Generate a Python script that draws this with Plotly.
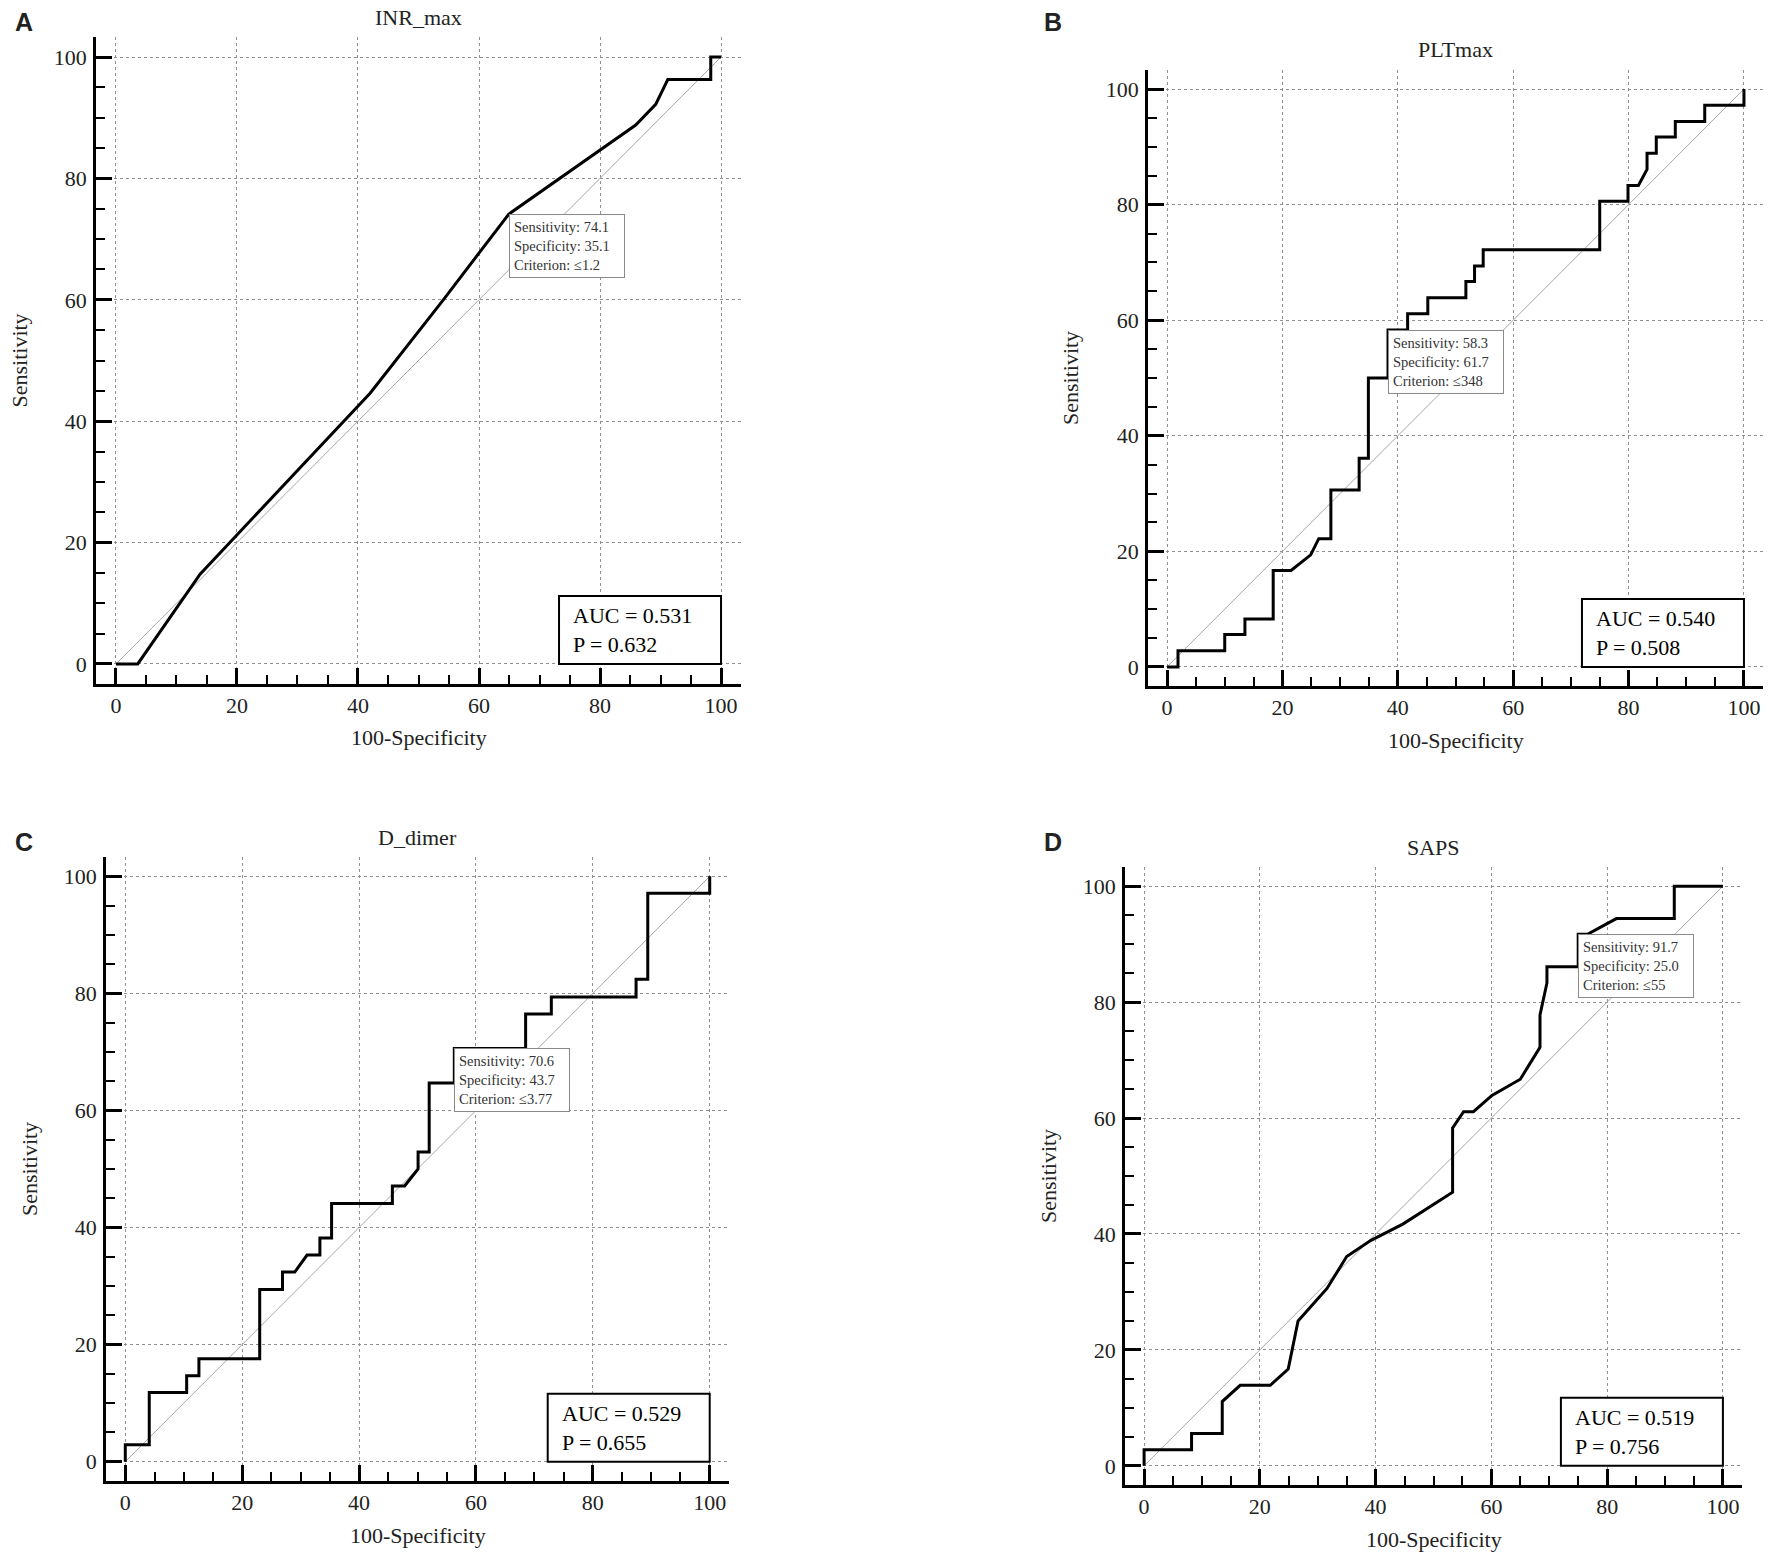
"""ROC curves for four predictors, 2x2 panel figure """

import plotly.graph_objects as go

# panel labels and titles
panel_letters = ["A", "B", "C", "D"]
panel_titles = ["INR_max", "PLTmax", "D_dimer", "SAPS"]

# ROC points: x = 100-Specificity, y = Sensitivity
inr_fpr = [0, 3.6, 13.9, 42.0, 54.1, 64.9, 85.9, 89.2, 91.2, 98.3, 98.3, 100]
inr_sens = [0, 0, 14.8, 44.6, 60.0, 74.1, 88.8, 92.2, 96.3, 96.3, 100, 100]

plt_fpr = [0, 1.9, 1.9, 10.0, 10.0, 13.5, 13.5, 18.4, 18.4, 21.5, 24.9, 26.3,
           28.4, 28.4, 33.3, 33.3, 34.9, 34.9, 38.3, 38.3, 41.7, 41.7, 45.2,
           45.2, 51.8, 51.8, 53.3, 53.3, 54.8, 54.8, 75.0, 75.0, 79.9, 79.9,
           81.7, 83.2, 83.2, 84.8, 84.8, 88.1, 88.1, 93.2, 93.2, 100, 100]
plt_sens = [0, 0, 2.8, 2.8, 5.6, 5.6, 8.3, 8.3, 16.7, 16.7, 19.4, 22.2,
            22.2, 30.6, 30.6, 36.1, 36.1, 50.0, 50.0, 58.3, 58.3, 61.1, 61.1,
            63.9, 63.9, 66.7, 66.7, 69.4, 69.4, 72.2, 72.2, 80.6, 80.6, 83.3,
            83.3, 86.1, 88.9, 88.9, 91.7, 91.7, 94.4, 94.4, 97.2, 97.2, 100]

ddimer_fpr = [0, 0, 4.1, 4.1, 10.5, 10.5, 12.6, 12.6, 23.0, 23.0, 26.9, 26.9,
              29.0, 31.1, 33.3, 33.3, 35.3, 35.3, 45.7, 45.7, 47.8, 50.1, 50.1,
              52.0, 52.0, 56.3, 56.3, 68.5, 68.5, 72.9, 72.9, 87.4, 87.4, 89.4,
              89.4, 100, 100]
ddimer_sens = [0, 2.9, 2.9, 11.8, 11.8, 14.7, 14.7, 17.6, 17.6, 29.4, 29.4, 32.4,
               32.4, 35.3, 35.3, 38.2, 38.2, 44.1, 44.1, 47.1, 47.1, 50.0, 52.9,
               52.9, 64.7, 64.7, 70.6, 70.6, 76.5, 76.5, 79.4, 79.4, 82.4, 82.4,
               97.1, 97.1, 100]

saps_fpr = [0, 0, 8.2, 8.2, 13.5, 13.5, 16.6, 21.8, 24.9, 26.6, 31.6, 35.0,
            39.2, 44.7, 53.3, 53.3, 55.2, 56.9, 60.1, 65.0, 68.4, 68.4, 69.6,
            69.6, 75.0, 75.0, 76.6, 81.6, 91.6, 91.6, 100]
saps_sens = [0, 2.8, 2.8, 5.6, 5.6, 11.1, 13.9, 13.9, 16.7, 25.0, 30.6, 36.1,
             38.9, 41.7, 47.2, 58.3, 61.1, 61.1, 63.9, 66.7, 72.2, 77.8, 83.3,
             86.1, 86.1, 91.7, 91.7, 94.4, 94.4, 100, 100]

# optimal cut-off point for each curve
cut_sens = [74.1, 58.3, 70.6, 91.7]
cut_spec = [35.1, 61.7, 43.7, 25.0]
cut_criterion = ["≤1.2", "≤348", "≤3.77", "≤55"]

# area under curve and p value
auc_values = ["0.531", "0.540", "0.529", "0.519"]
p_values = ["0.632", "0.508", "0.655", "0.756"]

W, H = 1772, 1554
SERIF = "Liberation Serif"
AX_RANGE = [-3.3, 103.3]

# plot area of each panel in pixels: left, right, top, bottom
panel_boxes = [(96, 741, 37, 684),
               (1148, 1763, 70, 686),
               (106, 729, 857, 1481),
               (1125, 1742, 867, 1485)]
letter_pos = [(24, 22), (1053, 22), (24, 842), (1053, 842)]

# size of the AUC box in pixels
AUC_W, AUC_H, AUC_PAD = 162, 68, 12


def px_x(v):
    return v / W


def px_y(v):
    return 1 - v / H


def axis_style(domain):
    """ Shared look of the axes: thick black line, inside ticks, dotted grid """
    return dict(
        domain=domain,
        range=AX_RANGE,
        showline=True, linecolor="black", linewidth=2.5, mirror=False,
        ticks="inside", ticklen=16, tickwidth=2.5, tickcolor="black",
        tick0=0, dtick=20,
        minor=dict(ticks="inside", ticklen=9, tickwidth=1.5, tickcolor="black",
                   tick0=0, dtick=5, showgrid=False),
        showgrid=True, gridcolor="#909090", gridwidth=1, griddash="dot",
        zeroline=False, automargin=False, fixedrange=True,
        tickfont=dict(family=SERIF, size=22, color="#222"),
    )


def paper_text(text, x, y, size=22, family=SERIF, angle=0):
    """ Free text placed in page pixels """
    return dict(text=text, x=px_x(x), y=px_y(y), xref="paper", yref="paper",
                xanchor="center", yanchor="middle", showarrow=False,
                textangle=angle, font=dict(family=family, size=size, color="#222"))


curves = [(inr_fpr, inr_sens), (plt_fpr, plt_sens),
          (ddimer_fpr, ddimer_sens), (saps_fpr, saps_sens)]

fig = go.Figure()
annotations = []

for i in range(4):
    suffix = "" if i == 0 else str(i + 1)
    xref, yref = "x" + suffix, "y" + suffix
    left, right, top, bottom = panel_boxes[i]
    fpr, sens = curves[i]
    span = AX_RANGE[1] - AX_RANGE[0]
    sx = (right - left) / span  # pixels per unit
    sy = (bottom - top) / span

    # reference diagonal
    fig.add_trace(go.Scatter(x=[0, 100], y=[0, 100], mode="lines",
                             line=dict(color="#a6a6a6", width=1),
                             xaxis=xref, yaxis=yref, hoverinfo="skip"))
    # ROC curve
    fig.add_trace(go.Scatter(x=fpr, y=sens, mode="lines",
                             line=dict(color="black", width=3),
                             xaxis=xref, yaxis=yref, name=panel_titles[i]))

    xa = axis_style([px_x(left), px_x(right)])
    xa["anchor"] = yref
    ya = axis_style([px_y(bottom), px_y(top)])
    ya["anchor"] = xref
    ya["ticklabelstandoff"] = 2
    fig.update_layout({"xaxis" + suffix: xa, "yaxis" + suffix: ya})

    cx = (left + right) / 2
    # title, panel letter, axis titles
    annotations.append(paper_text(panel_titles[i], cx, top - 20))
    annotations.append(paper_text("<b>%s</b>" % panel_letters[i],
                                  letter_pos[i][0], letter_pos[i][1],
                                  size=25, family="Liberation Sans"))
    annotations.append(paper_text("100-Specificity", cx, bottom + 54))
    annotations.append(paper_text("Sensitivity", left - 77, (top + bottom) / 2,
                                  angle=-90))

    # criterion box, top-left corner sits on the cut-off point
    annotations.append(dict(
        text="Sensitivity: %.1f<br>Specificity: %.1f<br>Criterion: %s"
             % (cut_sens[i], cut_spec[i], cut_criterion[i]),
        x=100 - cut_spec[i], y=cut_sens[i], xref=xref, yref=yref,
        xanchor="left", yanchor="top", showarrow=False, align="left",
        width=106, borderpad=4, bgcolor="white",
        bordercolor="#8a8a8a", borderwidth=1,
        font=dict(family=SERIF, size=14.5, color="#333")))

    # AUC box in the bottom-right corner: frame as a shape, text inside it
    fig.add_shape(type="rect", xref=xref, yref=yref,
                  x0=100 - AUC_W / sx, x1=100, y0=0, y1=AUC_H / sy,
                  line=dict(color="black", width=2), fillcolor="white",
                  layer="above")
    annotations.append(dict(
        text="AUC = %s<br>P = %s" % (auc_values[i], p_values[i]),
        x=100 - (AUC_W - AUC_PAD) / sx, y=AUC_H / 2 / sy,
        xref=xref, yref=yref, xanchor="left", yanchor="middle",
        showarrow=False, align="left",
        font=dict(family=SERIF, size=22, color="black")))

fig.update_layout(
    width=W, height=H,
    margin=dict(l=0, r=0, t=0, b=0),
    paper_bgcolor="white", plot_bgcolor="white",
    showlegend=False,
    annotations=annotations,
)

# the page body has a default 8px margin; drop it so the figure fills the window
fig.write_html("out.html", config={"displayModeBar": False},
               post_script="document.body.style.margin = '0';")
